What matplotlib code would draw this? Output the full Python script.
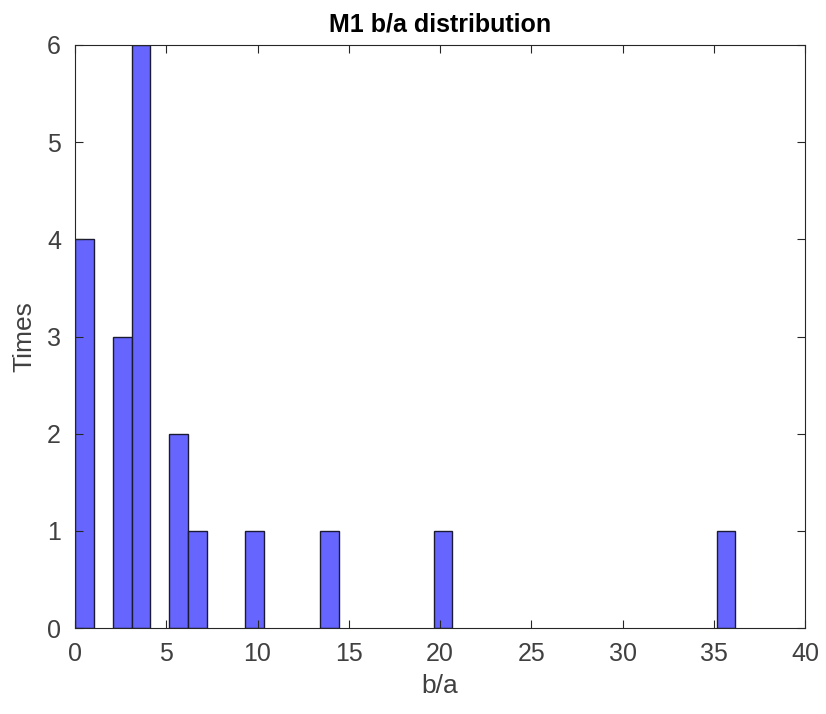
import matplotlib
matplotlib.use("Agg")
import matplotlib.pyplot as plt

# histogram bins (start at 0, fixed width), only non-empty bins listed
bin_width = 1.034
bin_index = [0, 2, 3, 5, 6, 9, 13, 19, 34]
counts = [4, 3, 6, 2, 1, 1, 1, 1, 1]

x_ticks = [0, 5, 10, 15, 20, 25, 30, 35, 40]
y_ticks = [0, 1, 2, 3, 4, 5, 6]

plt.rcParams['font.family'] = ['Liberation Sans', 'DejaVu Sans']

fig = plt.figure(figsize=(8.26, 7.14), dpi=100)
ax = fig.add_axes([0.0908, 0.1204, 0.8838, 0.8166])

lefts = [i * bin_width for i in bin_index]
ax.bar(lefts, counts, width=bin_width, align='edge',
       color='#6666ff', edgecolor='#1a1a33', linewidth=1.0)

ax.set_xlim(0, 40)
ax.set_ylim(0, 6)
ax.set_xticks(x_ticks)
ax.set_yticks(y_ticks)
ax.tick_params(direction='in', top=True, right=True, length=6,
               labelsize=18, labelcolor='#404040', color='#262626', pad=10)
for s in ax.spines.values():
    s.set_color('#262626')
    s.set_linewidth(0.8)

ax.set_xlabel('b/a', fontsize=19, color='#404040', labelpad=6)
ax.set_ylabel('Times', fontsize=19, color='#404040', labelpad=8)
ax.set_title('M1 b/a distribution', fontsize=18, fontweight='bold', pad=10)

fig.savefig('out.png', dpi=100)
